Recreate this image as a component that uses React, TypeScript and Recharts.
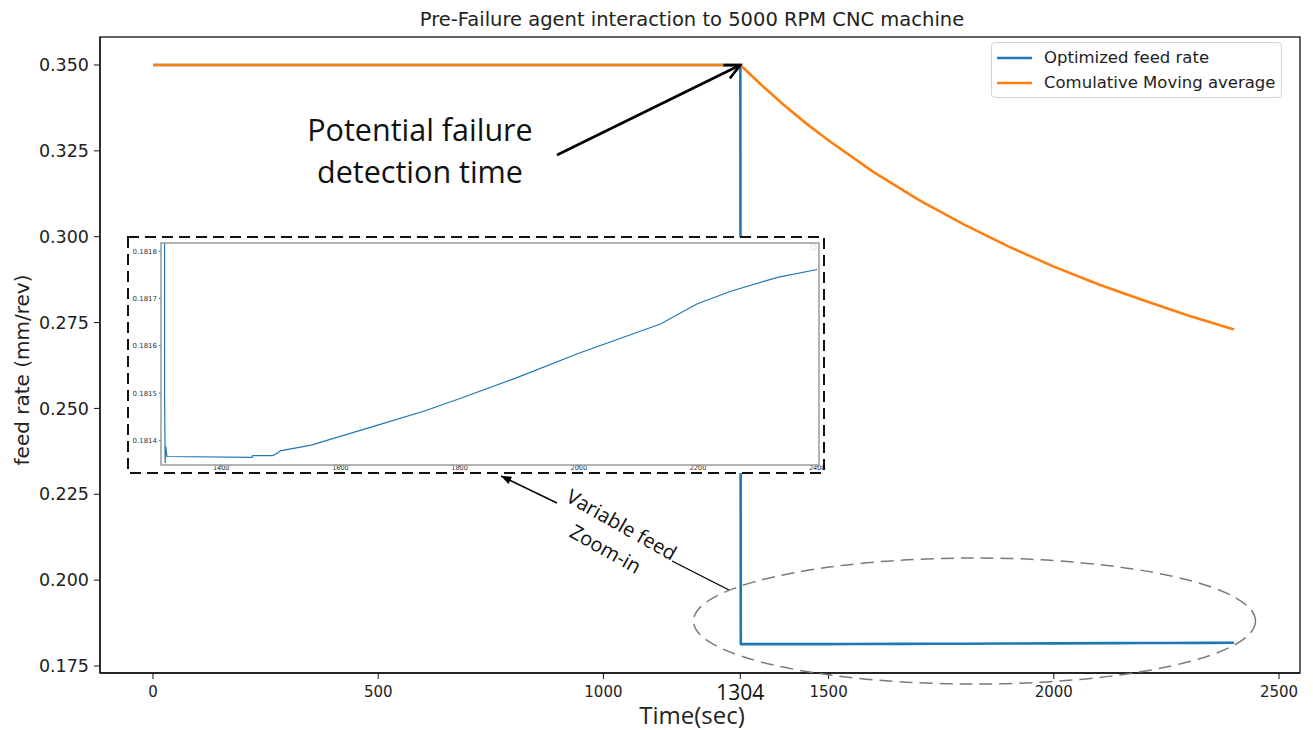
import {LineChart, Line, XAxis, YAxis, Legend} from 'recharts';

// Optimized feed rate (blue) samples: time in seconds, feed in mm/rev
const blueTime = [0, 1304, 1305, 1306, 1307, 1309, 1452, 1453, 1486, 1494, 1499, 1551, 1657, 1741, 1802, 1893, 2000, 2137, 2198, 2255, 2335, 2400];
const blueFeed = [0.35, 0.35, 0.181493, 0.181352, 0.181387, 0.181366, 0.181364, 0.181368, 0.181368, 0.181373, 0.181378, 0.18139, 0.18143, 0.181462, 0.181489, 0.181531, 0.181584, 0.181646, 0.181688, 0.181715, 0.181745, 0.181761];

// Cumulative moving average (orange)
const cmaTime = [0, 1304, 1350, 1400, 1450, 1500, 1600, 1700, 1800, 1900, 2000, 2100, 2200, 2300, 2400];
const cmaFeed = [0.35, 0.35, 0.3443, 0.3384, 0.333, 0.328, 0.3188, 0.3107, 0.3036, 0.2971, 0.2913, 0.2861, 0.2814, 0.277, 0.273];

const xTicks = [0, 500, 1000, 1304, 1500, 2000, 2500];
const yTicks = [0.175, 0.2, 0.225, 0.25, 0.275, 0.3, 0.325, 0.35];
const insetXTicks = [1400, 1600, 1800, 2000, 2200, 2400];
const insetYTicks = [0.1814, 0.1815, 0.1816, 0.1817, 0.1818];

const X_DOMAIN: [number, number] = [-117.7, 2546.6];
const Y_DOMAIN: [number, number] = [0.17296, 0.35815];
const INSET_X_DOMAIN: [number, number] = [1299, 2403];
const INSET_Y_DOMAIN: [number, number] = [0.181348, 0.181817];

const W = 1313;
const H = 730;
const PLOT = {left: 100, top: 37, right: 1300, bottom: 673};
const INSET = {left: 128, top: 237, width: 696, height: 236};

const BLUE = '#1f77b4';
const ORANGE = '#ff7f0e';
const DEJAVU = '"DejaVu Sans", sans-serif';
const ANNOT = '"Open Sans", sans-serif';

const blueData = blueTime.map((t, i) => ({t, feed: blueFeed[i]}));
const cmaData = cmaTime.map((t, i) => ({t, feed: cmaFeed[i]}));

// pixel helpers for the annotation layer (same domains as the axes)
const xPx = (v: number) =>
    PLOT.left + ((v - X_DOMAIN[0]) / (X_DOMAIN[1] - X_DOMAIN[0])) * (PLOT.right - PLOT.left);
const yPx = (v: number) =>
    PLOT.bottom - ((v - Y_DOMAIN[0]) / (Y_DOMAIN[1] - Y_DOMAIN[0])) * (PLOT.bottom - PLOT.top);

function headPoints(tx: number, ty: number, hx: number, hy: number, len: number, ang: number) {
    const a = Math.atan2(hy - ty, hx - tx);
    const p1 = [hx - len * Math.cos(a - ang), hy - len * Math.sin(a - ang)];
    const p2 = [hx - len * Math.cos(a + ang), hy - len * Math.sin(a + ang)];
    return {p1, p2};
}

const XTick = (props: any) => {
    const {x, payload} = props;
    if (payload.value === 1304) {
        return (
            <text x={x} y={700} textAnchor="middle" fontFamily={ANNOT} fontSize={21} fill="#111">
                1304
            </text>
        );
    }
    return (
        <text x={x} y={697} textAnchor="middle" fontFamily={DEJAVU} fontSize={15} fill="#222">
            {payload.value}
        </text>
    );
};

const InsetXTick = (props: any) => {
    const {x, payload} = props;
    return (
        <text x={x} y={233} textAnchor="middle" fontFamily={DEJAVU} fontSize={6.5} fill="#333">
            {payload.value}
        </text>
    );
};

const renderLegend = () => (
    <div style={{
        boxSizing: 'border-box',
        width: 291,
        height: 56,
        border: '1px solid #d4d4d4',
        borderRadius: 4,
        background: 'rgba(255,255,255,0.85)',
        fontFamily: DEJAVU,
        fontSize: 16.5,
        color: '#222',
        paddingTop: 2,
        whiteSpace: 'nowrap',
    }}>
        {[
            {name: 'Optimized feed rate', color: BLUE},
            {name: 'Comulative Moving average', color: ORANGE},
        ].map(item => (
            <div key={item.name} style={{display: 'flex', alignItems: 'center', height: 25}}>
                <svg width={48} height={10} style={{marginLeft: 4, flexShrink: 0}}>
                    <line x1={1} y1={5} x2={36} y2={5} stroke={item.color} strokeWidth={2.5}/>
                </svg>
                <span>{item.name}</span>
            </div>
        ))}
    </div>
);

function Annotations() {
    const tipX = xPx(1304);
    const tipY = yPx(0.35);
    const tail1 = [557, 155];
    const h1 = headPoints(tail1[0], tail1[1], tipX, tipY, 17, 0.45);
    const tail2 = [557, 503];
    const tip2 = [501, 476];
    const h2 = headPoints(tail2[0], tail2[1], tip2[0], tip2[1], 11, 0.38);

    return (
        <svg width={W} height={H} style={{position: 'absolute', left: 0, top: 0, pointerEvents: 'none'}}>
            {/* axes frame */}
            <rect x={PLOT.left} y={PLOT.top} width={PLOT.right - PLOT.left} height={PLOT.bottom - PLOT.top}
                  fill="none" stroke="#111" strokeWidth={1.3}/>

            <text x={692} y={26} textAnchor="middle" fontFamily={DEJAVU} fontSize={19.5} fill="#222">
                Pre-Failure agent interaction to 5000 RPM CNC machine
            </text>
            <text x={0} y={0} transform="translate(22,370) rotate(-90)" textAnchor="middle"
                  dominantBaseline="central" fontFamily={DEJAVU} fontSize={20} fill="#222">
                feed rate (mm/rev)
            </text>
            <text x={692} y={724} textAnchor="middle" fontFamily={ANNOT} fontSize={24} fill="#222">
                Time(sec)
            </text>

            {/* failure detection callout */}
            <text x={420} y={141} textAnchor="middle" fontFamily={ANNOT} fontSize={30.5} fill="#111">
                Potential failure
            </text>
            <text x={420} y={183} textAnchor="middle" fontFamily={ANNOT} fontSize={30.5} fill="#111">
                detection time
            </text>
            <line x1={tail1[0]} y1={tail1[1]} x2={tipX} y2={tipY} stroke="#000" strokeWidth={2.6}/>
            <polyline points={`${h1.p1[0]},${h1.p1[1]} ${tipX},${tipY} ${h1.p2[0]},${h1.p2[1]}`}
                      fill="none" stroke="#000" strokeWidth={2.6} strokeLinejoin="miter"/>

            {/* inset border */}
            <rect x={INSET.left} y={INSET.top} width={INSET.width} height={INSET.height}
                  fill="none" stroke="#111" strokeWidth={2} strokeDasharray="11 6"/>
            <rect x={161} y={243} width={658} height={222} fill="none" stroke="#9a9a9a" strokeWidth={1.5}/>
            <rect x={811} y={245} width={5} height={5} rx={1} fill="none" stroke="#ddd" strokeWidth={0.8}/>

            {/* zoom-in callout */}
            <line x1={tail2[0]} y1={tail2[1]} x2={tip2[0]} y2={tip2[1]} stroke="#000" strokeWidth={1.4}/>
            <polygon points={`${tip2[0]},${tip2[1]} ${h2.p1[0]},${h2.p1[1]} ${h2.p2[0]},${h2.p2[1]}`} fill="#000"/>
            <line x1={672} y1={561} x2={729} y2={590} stroke="#000" strokeWidth={1.4}/>
            <text transform="translate(622,524) rotate(29.5)" textAnchor="middle" dominantBaseline="central"
                  fontFamily={ANNOT} fontSize={20} fill="#111">
                <tspan x={0} y={0}>Variable feed</tspan>
                <tspan x={-2} y={29}>Zoom-in</tspan>
            </text>
            <ellipse cx={974.5} cy={621} rx={281} ry={63} fill="none" stroke="#7a7a7a" strokeWidth={1.5}
                     strokeDasharray="13 7"/>
        </svg>
    );
}

export default function App() {
    return (
        <div style={{position: 'absolute', left: 0, top: 0, width: W, height: H, background: '#fff'}}>
            <LineChart width={W} height={H} margin={{top: PLOT.top, right: W - PLOT.right, bottom: 0, left: 40}}>
                <XAxis type="number" dataKey="t" domain={X_DOMAIN} allowDataOverflow ticks={xTicks}
                       interval={0} height={H - PLOT.bottom} tickSize={6} tick={<XTick/>}
                       axisLine={{stroke: '#111', strokeWidth: 1.3}} tickLine={{stroke: '#111'}}/>
                <YAxis type="number" domain={Y_DOMAIN} allowDataOverflow ticks={yTicks} interval={0}
                       width={60} tickSize={6} tickMargin={5}
                       tickFormatter={(v: number) => v.toFixed(3)}
                       tick={{fontSize: 17.5, fontFamily: DEJAVU, fill: '#222'}}
                       axisLine={{stroke: '#111', strokeWidth: 1.3}} tickLine={{stroke: '#111'}}/>
                <Legend layout="vertical" align="center" verticalAlign="middle" width={291} height={56}
                        wrapperStyle={{left: 991, top: 42, width: 291, height: 56}} content={renderLegend}/>
                <Line data={blueData} dataKey="feed" name="Optimized feed rate" type="linear" stroke={BLUE}
                      strokeWidth={2.6} dot={false} isAnimationActive={false}/>
                <Line data={cmaData} dataKey="feed" name="Comulative Moving average" type="linear" stroke={ORANGE}
                      strokeWidth={2.6} dot={false} isAnimationActive={false}/>
            </LineChart>

            {/* zoomed view of the post-detection feed rate */}
            <div style={{position: 'absolute', left: INSET.left, top: INSET.top, width: INSET.width,
                height: INSET.height, background: '#fff'}}>
                <LineChart width={INSET.width + 10} height={INSET.height}
                           margin={{top: 6, right: 15, bottom: 0, left: 0}}>
                    <XAxis type="number" dataKey="t" domain={INSET_X_DOMAIN} allowDataOverflow ticks={insetXTicks}
                           interval={0} height={8} tickSize={2} tickMargin={1} axisLine={false}
                           tick={<InsetXTick/>} tickLine={{stroke: '#555'}}/>
                    <YAxis type="number" domain={INSET_Y_DOMAIN} allowDataOverflow ticks={insetYTicks} interval={0}
                           width={33} tickSize={2} tickMargin={2} axisLine={false}
                           tickFormatter={(v: number) => v.toFixed(4)}
                           tick={{fontSize: 7, fontFamily: DEJAVU, fill: '#333'}} tickLine={{stroke: '#555'}}/>
                    <Line data={blueData} dataKey="feed" type="linear" stroke={BLUE} strokeWidth={1.2}
                          dot={false} isAnimationActive={false}/>
                </LineChart>
            </div>

            <Annotations/>
        </div>
    );
}
